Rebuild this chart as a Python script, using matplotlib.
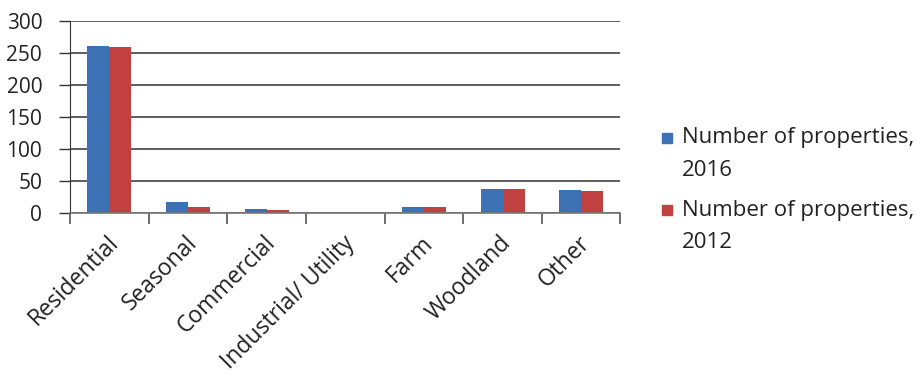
import numpy as np
import matplotlib.pyplot as plt
import matplotlib.transforms as mtransforms
from matplotlib.patches import Rectangle

# Property counts by class
categories = ['Residential', 'Seasonal', 'Commercial', 'Industrial/ Utility',
              'Farm', 'Woodland', 'Other']
props_2016 = [261, 17, 6, 0, 9, 37, 36]
props_2012 = [259, 10, 5, 0, 9, 38, 34]
series_labels = ['Number of properties,\n2016', 'Number of properties,\n2012']
yticks = [0, 50, 100, 150, 200, 250, 300]

plt.rcParams['font.family'] = ['Open Sans', 'DejaVu Sans']

W, H = 916, 373
fig = plt.figure(figsize=(W / 100, H / 100), dpi=100)
ax = fig.add_axes([0.0764, 0.429, 0.601, 0.515])

x = np.arange(len(categories))
w = 0.28
b1 = ax.bar(x - w / 2, props_2016, w, color='#3c72b4', label=series_labels[0])
b2 = ax.bar(x + w / 2, props_2012, w, color='#c0413f', label=series_labels[1])

ax.set_xlim(-0.5, len(categories) - 0.5)
ax.set_ylim(0, 300)
ax.set_yticks(yticks)
ax.set_yticklabels([str(v) for v in yticks], fontsize=15, color='#222222')
ax.yaxis.grid(True, color='#333333', linewidth=1.1)
ax.set_axisbelow(True)

# category boundary ticks on x axis
ax.set_xticks(np.arange(len(categories) + 1) - 0.5)
ax.set_xticklabels([])
ax.tick_params(axis='x', length=8, width=1.2, color='#555555', direction='out')
ax.tick_params(axis='y', length=8, width=1.0, color='#333333', pad=12)

for spine in ['top', 'right']:
    ax.spines[spine].set_visible(False)
ax.spines['left'].set_color('#333333')
ax.spines['bottom'].set_color('#777777')
ax.spines['bottom'].set_linewidth(1.2)

# rotated category labels
offset = mtransforms.ScaledTranslation(-3 / 100, -18 / 100, fig.dpi_scale_trans)
for i, cat in enumerate(categories):
    ax.text(i, 0, cat, rotation=45, ha='right', va='top', rotation_mode='anchor',
            fontsize=16.5, color='#222222',
            transform=ax.get_xaxis_transform() + offset)

# legend: square lined up with the first text line (Excel style)
for k, (bars, label) in enumerate(zip([b1, b2], series_labels)):
    y0 = 138 + k * 72
    color = bars.patches[0].get_facecolor()
    fig.patches.append(Rectangle((662 / W, 1 - (y0 + 5) / H), 10 / W, 10 / H,
                                 transform=fig.transFigure, color=color))
    for j, line in enumerate(label.split('\n')):
        fig.text(682 / W, 1 - (y0 + j * 32) / H, line, fontsize=16,
                 color='#222222', ha='left', va='center')

fig.savefig('out.png', dpi=100)
